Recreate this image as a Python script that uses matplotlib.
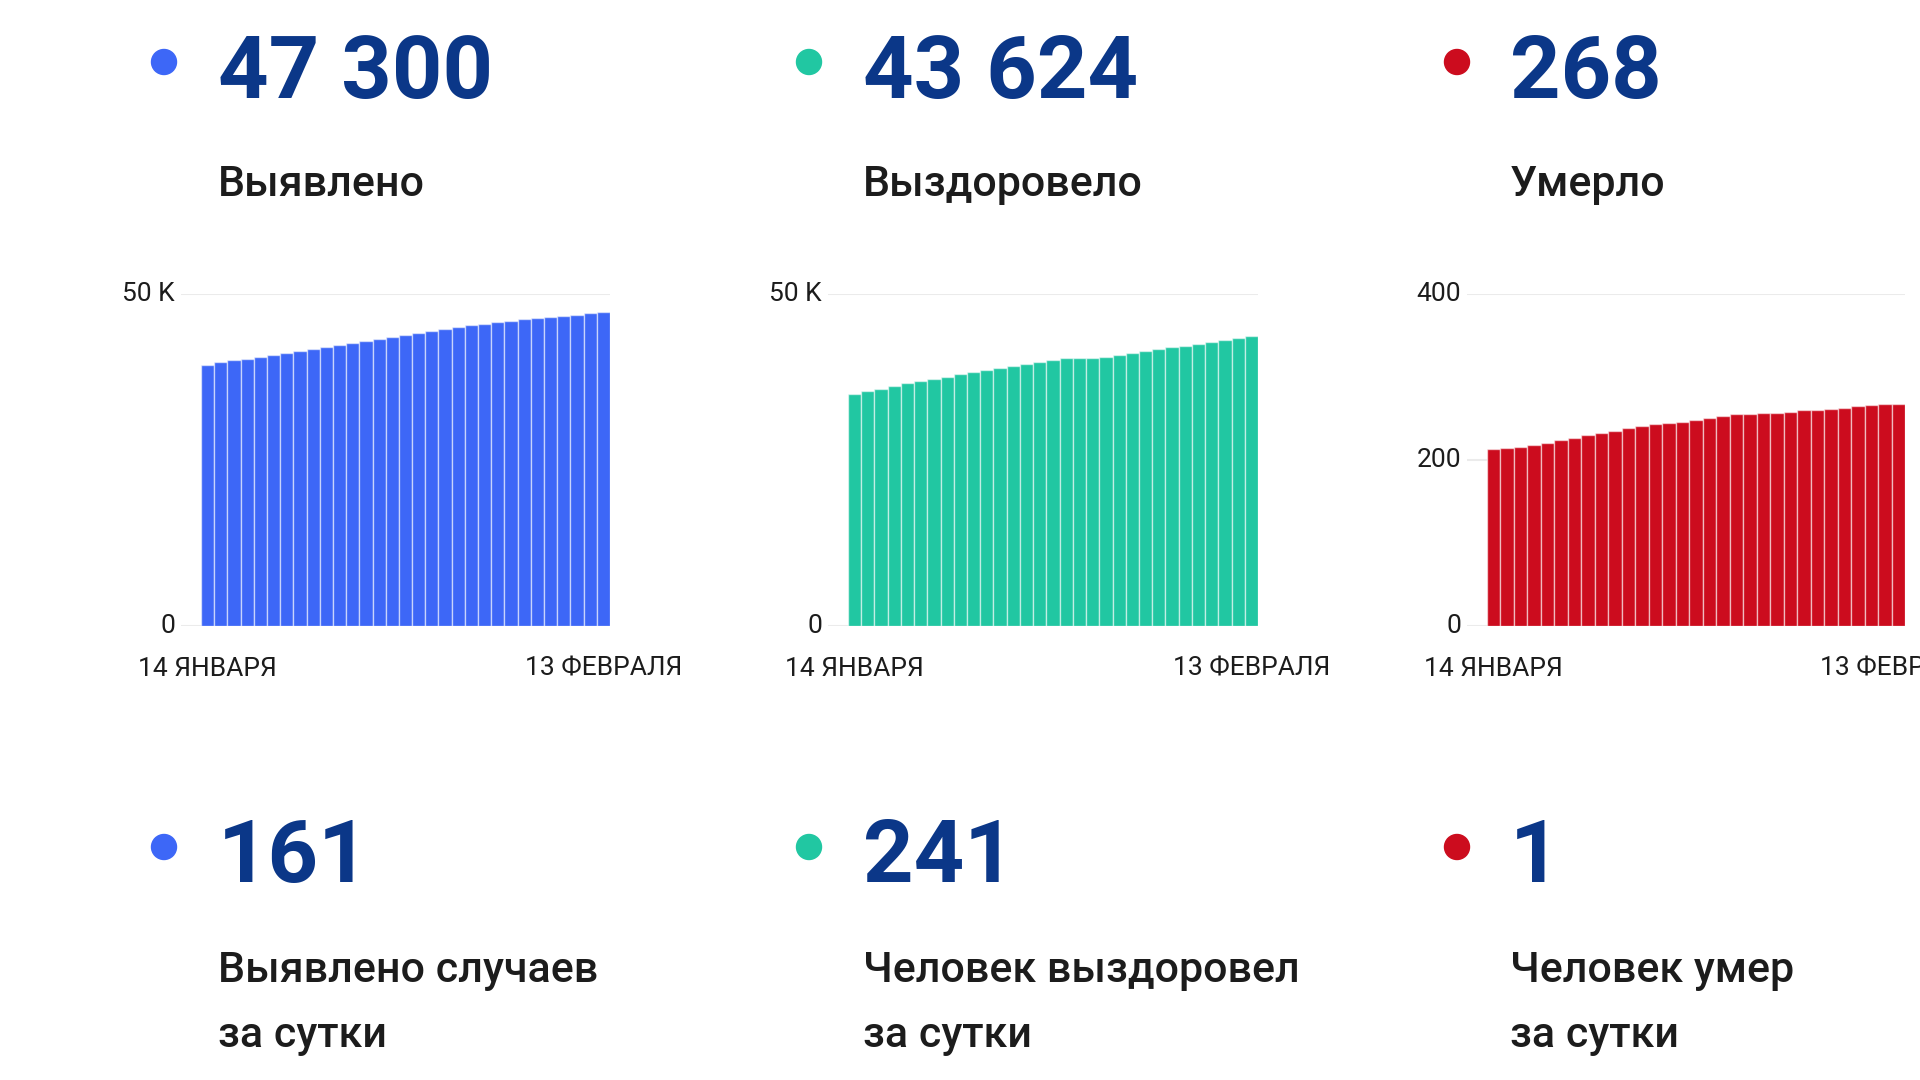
import matplotlib
matplotlib.use("Agg")
import matplotlib.pyplot as plt
from matplotlib.patches import Ellipse
import numpy as np

plt.rcParams['font.family'] = ['Roboto', 'DejaVu Sans']

# cumulative totals, 14 Jan .. 13 Feb (31 days)
detected = [39370, 39720, 40020, 40270, 40570, 40870, 41170, 41470, 41780, 42080,
            42380, 42680, 42980, 43280, 43580, 43880, 44180, 44480, 44730, 45040,
            45290, 45540, 45790, 45990, 46190, 46390, 46590, 46740, 46890, 47090, 47300]
recovered = [34960, 35410, 35760, 36110, 36560, 36960, 37260, 37560, 37910, 38270,
             38520, 38820, 39120, 39470, 39770, 40070, 40320, 40370, 40370, 40570,
             40870, 41170, 41420, 41680, 41980, 42230, 42530, 42780, 43030, 43330, 43624]
died = [213, 215, 216, 218, 221, 224, 227, 230, 233, 235, 238, 241, 243, 245, 246, 248,
        250, 253, 255, 256, 257, 257, 258, 260, 260, 261, 263, 265, 266, 267, 268]

date_labels = ["14 ЯНВАРЯ", "13 ФЕВРАЛЯ"]

totals = ["47 300", "43 624", "268"]
total_names = ["Выявлено", "Выздоровело", "Умерло"]
daily = ["161", "241", "1"]
daily_names = [["Выявлено случаев", "за сутки"],
               ["Человек выздоровел", "за сутки"],
               ["Человек умер", "за сутки"]]
ymax = [50000, 50000, 400]
yticks = [[0, 50000], [0, 50000], [0, 200, 400]]
yticklabels = [["0", "50 K"], ["0", "50 K"], ["0", "200", "400"]]

colors = ["#3d67f7", "#21c7a2", "#cc0c1e"]
navy = "#0b3788"
dark = "#1c1c1c"

W, H = 1920, 1080
fig = plt.figure(figsize=(19.2, 10.8), dpi=100)
fig.patch.set_facecolor("white")


def fx(px):
    return px / W


def fy(py):
    return 1 - py / H


dot_x = [164, 809, 1457]
text_x = [218, 863, 1510]
# axes spans in pixels: (gridline start, bar end)
ax_spans = [(181, 610), (828, 1258), (1467, 1905)]
ax_top, ax_bot = 294, 626
series = [detected, recovered, died]

for i in range(3):
    # top block
    fig.add_artist(Ellipse((fx(dot_x[i]), fy(62)), 25 / W, 25 / H,
                           transform=fig.transFigure, color=colors[i]))
    fig.text(fx(text_x[i]), fy(98), totals[i], fontsize=63.5, fontweight="bold",
             color=navy, va="baseline", ha="left")
    fig.text(fx(text_x[i]), fy(196), total_names[i], fontsize=31, fontweight="medium",
             color=dark, va="baseline", ha="left")

    # bottom block
    fig.add_artist(Ellipse((fx(dot_x[i]), fy(847)), 25 / W, 25 / H,
                           transform=fig.transFigure, color=colors[i]))
    fig.text(fx(text_x[i]), fy(882), daily[i], fontsize=63.5, fontweight="bold",
             color=navy, va="baseline", ha="left")
    fig.text(fx(text_x[i]), fy(982), daily_names[i][0], fontsize=31, fontweight="medium",
             color=dark, va="baseline", ha="left")
    fig.text(fx(text_x[i]), fy(1047), daily_names[i][1], fontsize=31, fontweight="medium",
             color=dark, va="baseline", ha="left")

    # bar chart
    x0, x1 = ax_spans[i]
    ax = fig.add_axes([fx(x0), fy(ax_bot), (x1 - x0) / W, (ax_bot - ax_top) / H])
    vals = series[i]
    n = len(vals)
    xs = np.arange(n)
    bar_px = (x1 - x0 - 20) / n
    pad = 20 / bar_px
    ax.set_xlim(-0.5 - pad, n - 0.5)
    ax.set_ylim(0, ymax[i])
    for yt in yticks[i]:
        ax.axhline(yt, color="#ebebeb", lw=1.5, zorder=0)
    ax.bar(xs, vals, width=1.0, color=colors[i], edgecolor=(1, 1, 1, 0.55),
           linewidth=1.0, zorder=2)
    for s in ax.spines.values():
        s.set_visible(False)
    ax.set_xticks([])
    ax.set_yticks([])
    for yt, lab in zip(yticks[i], yticklabels[i]):
        ax.text(-6 / (x1 - x0), yt, lab, transform=ax.get_yaxis_transform(),
                ha="right", va="center", fontsize=19, color=dark, clip_on=False)
    yl = -(669 - ax_bot) / (ax_bot - ax_top)
    ax.text(xs[0], yl, date_labels[0], transform=ax.get_xaxis_transform(),
            ha="center", va="center", fontsize=19, color=dark, clip_on=False)
    ax.text(xs[-1], yl, date_labels[1], transform=ax.get_xaxis_transform(),
            ha="center", va="center", fontsize=19, color=dark, clip_on=False)

fig.savefig("out.png", dpi=100)
